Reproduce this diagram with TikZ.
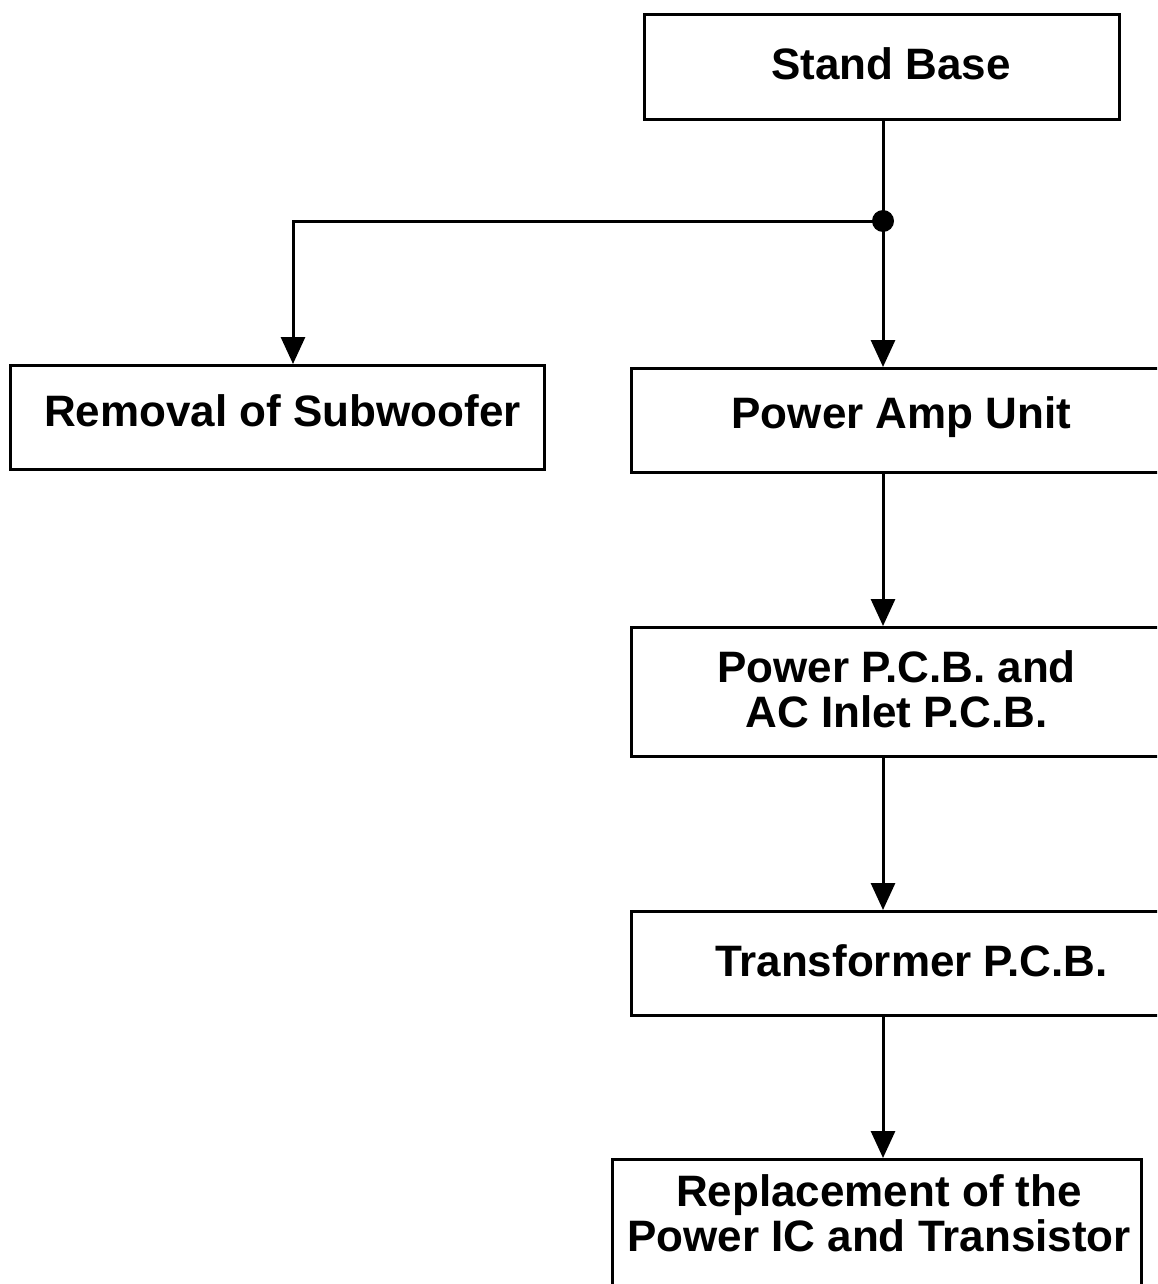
\documentclass[tikz,border=0pt]{standalone}
\usepackage{fontspec}
\setmainfont{Liberation Sans}
\usetikzlibrary{arrows.meta}
\begin{document}
\begin{tikzpicture}[x=1pt,y=-1pt,
  box/.style={draw, line width=3pt, inner sep=0pt, anchor=north west},
  every label/.style={font=\bfseries\fontsize{44}{45}\selectfont, align=center, inner sep=0pt, yshift=3pt},
  conn/.style={line width=3pt},
  arr/.style={line width=3pt, -{Triangle[length=27pt,width=24pt]}}]
\useasboundingbox (0,0) rectangle (1157,1284);
\clip (0,0) rectangle (1157,1284);
\node[box, minimum width=475pt, minimum height=105pt, label={[xshift=9pt]center:Stand Base}] (sb) at (643,13) {};
\node[box, minimum width=534pt, minimum height=104pt, label={[xshift=5pt,yshift=4pt]center:Removal of Subwoofer}] (rem) at (9,364) {};
\node[box, minimum width=540pt, minimum height=104pt, label={center:Power Amp Unit}] (pa) at (630,367) {};
\node[box, minimum width=540pt, minimum height=129pt, label={[xshift=-5pt]center:Power P.C.B. and\\AC Inlet P.C.B.}] (pcb) at (630,626) {};
\node[box, minimum width=540pt, minimum height=104pt, label={[xshift=10pt]center:Transformer P.C.B.}] (tr) at (630,910) {};
\node[box, minimum width=529pt, minimum height=140pt, label={[xshift=2pt,yshift=13pt]center:Replacement of the\\Power IC and Transistor}] (rep) at (611,1158) {};
\coordinate (j) at (883,221);
\coordinate (ja) at (293,221);
\draw[conn] (sb.south -| j) -- (j);
\draw[arr] (j) -- (pa.north -| j);
\draw[arr] (j) -- (ja) -- (rem.north -| ja);
\fill (j) circle (11pt);
\draw[arr] (pa.south -| j) -- (pcb.north -| j);
\draw[arr] (pcb.south -| j) -- (tr.north -| j);
\draw[arr] (tr.south -| j) -- (rep.north -| j);
\end{tikzpicture}
\end{document}
